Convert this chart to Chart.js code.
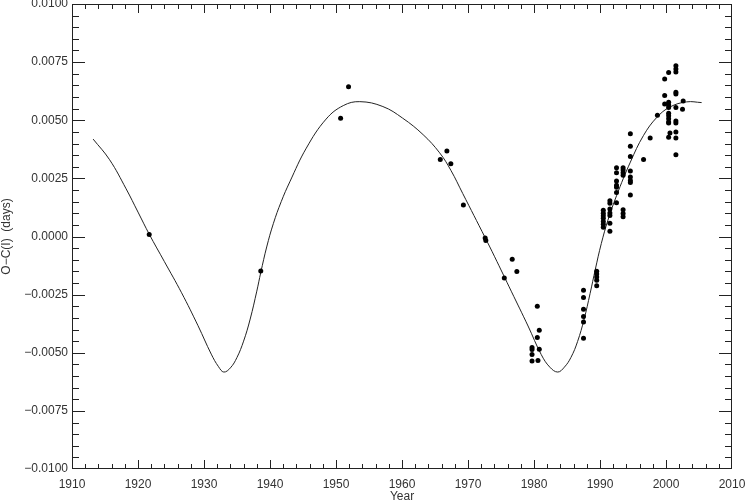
<!DOCTYPE html>
<html>
<head>
<meta charset="utf-8">
<title>O-C diagram</title>
<script src="https://cdn.jsdelivr.net/npm/chart.js@4/dist/chart.umd.min.js"></script>
<style>
  html, body { margin: 0; padding: 0; background: #fff; }
  canvas { display: block; }
</style>
</head>
<body>
<canvas id="oc-chart" width="746" height="501"></canvas>
<script>
// Timing observations (epoch in years, O-C in days), one line per season
const obsYear = [
    1921.7,
    1938.6,
    1950.7, 1951.9,
    1965.8, 1966.8, 1967.4, 1969.3,
    1972.6, 1972.7,
    1975.5, 1976.7, 1977.4,
    1979.7, 1979.7, 1979.7, 1979.7,
    1980.5, 1980.5, 1980.6, 1980.8, 1980.8,
    1987.5, 1987.5, 1987.5, 1987.5, 1987.5, 1987.5,
    1989.5, 1989.5, 1989.5, 1989.5, 1989.5,
    1990.5, 1990.5, 1990.5, 1990.5, 1990.5, 1990.5, 1990.5,
    1991.5, 1991.5, 1991.5, 1991.5, 1991.5, 1991.5, 1991.5,
    1992.5, 1992.5, 1992.5, 1992.5, 1992.5, 1992.5, 1992.5,
    1993.5, 1993.5, 1993.5, 1993.5, 1993.5, 1993.5, 1993.5,
    1994.6, 1994.6, 1994.6, 1994.6, 1994.6, 1994.6, 1994.6, 1994.6,
    1996.6, 1997.6, 1998.7,
    1999.8, 1999.8, 1999.8,
    2000.4, 2000.4, 2000.4, 2000.4, 2000.4, 2000.4, 2000.4, 2000.4, 2000.4, 2000.4, 2000.6,
    2001.5, 2001.5, 2001.5, 2001.5, 2001.5, 2001.5, 2001.5, 2001.5, 2001.5, 2001.5, 2001.5,
    2002.5, 2002.6
];
const obsOC = [
    0.00009,
    -0.00148,
    0.00509, 0.00644,
    0.00331, 0.00368, 0.00313, 0.00135,
    -0.00006, -0.00017,
    -0.00178, -0.00098, -0.00151,
    -0.00477, -0.00486, -0.00508, -0.00536,
    -0.00300, -0.00434, -0.00533, -0.00403, -0.00485,
    -0.00231, -0.00262, -0.00313, -0.00344, -0.00368, -0.00438,
    -0.00149, -0.00161, -0.00174, -0.00188, -0.00212,
    0.00113, 0.00100, 0.00089, 0.00078, 0.00065, 0.00053, 0.00040,
    0.00154, 0.00143, 0.00118, 0.00101, 0.00090, 0.00057, 0.00023,
    0.00296, 0.00274, 0.00239, 0.00220, 0.00212, 0.00189, 0.00145,
    0.00296, 0.00286, 0.00274, 0.00263, 0.00115, 0.00099, 0.00085,
    0.00442, 0.00388, 0.00344, 0.00282, 0.00256, 0.00241, 0.00232, 0.00178,
    0.00331, 0.00424, 0.00522,
    0.00677, 0.00606, 0.00570,
    0.00705, 0.00577, 0.00566, 0.00555, 0.00530, 0.00519, 0.00506, 0.00493, 0.00488, 0.00427, 0.00445,
    0.00734, 0.00720, 0.00708, 0.00620, 0.00613, 0.00555, 0.00497, 0.00488, 0.00449, 0.00424, 0.00352,
    0.00547, 0.00583
];

// Fitted curve
const fitYear = [1913.2, 1915.7, 1918.2, 1920.0, 1921.7, 1924.0, 1926.6, 1929.1, 1931.1, 1932.2,
                 1933.0, 1934.0, 1935.0, 1936.0, 1937.0, 1938.0, 1938.6, 1939.5, 1940.5, 1941.7,
                 1943.0, 1945.5, 1948.5, 1951.1, 1953.6, 1957.1, 1960.1, 1963.2, 1965.7, 1967.4,
                 1969.2, 1972.6, 1974.0, 1976.6, 1979.1, 1981.1, 1982.4, 1983.6, 1984.6, 1985.6,
                 1986.6, 1987.6, 1988.5, 1989.3, 1990.2, 1991.2, 1992.5, 1994.6, 1996.6, 1998.6,
                 2000.6, 2003.1, 2005.4];
const fitOC = [0.00419, 0.00330, 0.00205, 0.00105, 0.00010, -0.00108, -0.00242, -0.00384, -0.00506, -0.00560,
               -0.00583, -0.00565, -0.00520, -0.00450, -0.00355, -0.00235, -0.00155, -0.00045, 0.00055, 0.00150,
               0.00235, 0.00380, 0.00505, 0.00563, 0.00580, 0.00559, 0.00509, 0.00438, 0.00360, 0.00285,
               0.00185, -0.00005, -0.00085, -0.00238, -0.00385, -0.00508, -0.00562, -0.00583, -0.00562, -0.00520,
               -0.00452, -0.00355, -0.00245, -0.00140, -0.00030, 0.00070, 0.00175, 0.00320, 0.00435, 0.00512,
               0.00557, 0.00579, 0.00576];

const xTickValues = [1910, 1920, 1930, 1940, 1950, 1960, 1970, 1980, 1990, 2000, 2010];
const xTickLabels = ['1910', '1920', '1930', '1940', '1950', '1960', '1970', '1980', '1990', '2000', '2010'];
const yTickValues = [-0.01, -0.0075, -0.005, -0.0025, 0, 0.0025, 0.005, 0.0075, 0.01];
const yTickLabels = ['\u22120.0100', '\u22120.0075', '\u22120.0050', '\u22120.0025', '0.0000',
                     '0.0025', '0.0050', '0.0075', '0.0100'];

const AXIS_COLOR = '#222';
const TEXT_COLOR = '#333';
const FONT = { family: '"Liberation Sans", Arial, sans-serif', size: 12 };

// IDL-style box: inward ticks on all four sides, minor ticks between labels
const boxTicks = {
    id: 'boxTicks',
    afterDraw(chart) {
        const { ctx, chartArea: a } = chart;
        const xs = chart.scales.x, ys = chart.scales.y;
        ctx.save();
        ctx.strokeStyle = AXIS_COLOR;
        ctx.lineWidth = 1;
        ctx.strokeRect(a.left + 0.5, a.top + 0.5, a.right - a.left - 1, a.bottom - a.top - 1);
        ctx.beginPath();
        const xMinor = 5, yMinor = 5;
        for (let i = 0; i < xTickValues.length - 1; i++) {
            const step = (xTickValues[i + 1] - xTickValues[i]) / xMinor;
            for (let k = 0; k < xMinor; k++) {
                if (i === 0 && k === 0) continue;
                const px = Math.round(xs.getPixelForValue(xTickValues[i] + k * step)) + 0.5;
                const len = k === 0 ? 9 : 5;
                ctx.moveTo(px, a.bottom); ctx.lineTo(px, a.bottom - len);
                ctx.moveTo(px, a.top); ctx.lineTo(px, a.top + len);
            }
        }
        for (let i = 0; i < yTickValues.length - 1; i++) {
            const step = (yTickValues[i + 1] - yTickValues[i]) / yMinor;
            for (let k = 0; k < yMinor; k++) {
                if (i === 0 && k === 0) continue;
                const py = Math.round(ys.getPixelForValue(yTickValues[i] + k * step)) + 0.5;
                const len = k === 0 ? 13 : 7;
                ctx.moveTo(a.left, py); ctx.lineTo(a.left + len, py);
                ctx.moveTo(a.right, py); ctx.lineTo(a.right - len, py);
            }
        }
        ctx.stroke();
        ctx.restore();
    }
};

const ctx = document.getElementById('oc-chart').getContext('2d');
new Chart(ctx, {
    data: {
        datasets: [
            {
                type: 'scatter',
                label: 'Observed',
                data: obsYear.map((yr, i) => ({ x: yr, y: obsOC[i] })),
                pointRadius: 2.5,
                pointBackgroundColor: '#000',
                pointBorderWidth: 0,
                order: 1
            },
            {
                type: 'line',
                label: 'Fit',
                data: fitYear.map((yr, i) => ({ x: yr, y: fitOC[i] })),
                borderColor: '#222',
                borderWidth: 1,
                pointRadius: 0,
                fill: false,
                tension: 0.4,
                order: 2
            }
        ]
    },
    options: {
        responsive: false,
        animation: false,
        devicePixelRatio: 1,
        layout: { padding: { left: 0, right: 14, top: 1, bottom: 0 } },
        plugins: { legend: { display: false }, tooltip: { enabled: false } },
        scales: {
            x: {
                type: 'linear',
                min: 1910,
                max: 2010,
                afterBuildTicks: s => { s.ticks = xTickValues.map(v => ({ value: v })); },
                afterFit: s => { s.height = 32; s.paddingLeft = 0; s.paddingRight = 0; },
                grid: { display: false, drawTicks: false },
                border: { display: false },
                ticks: {
                    padding: 8,
                    color: TEXT_COLOR,
                    font: FONT,
                    maxRotation: 0,
                    callback: (v) => xTickLabels[xTickValues.indexOf(v)]
                },
                title: {
                    display: true,
                    text: 'Year',
                    color: TEXT_COLOR,
                    font: { ...FONT, lineHeight: 0.8 },
                    padding: 0
                }
            },
            y: {
                type: 'linear',
                min: -0.01,
                max: 0.01,
                afterBuildTicks: s => { s.ticks = yTickValues.map(v => ({ value: v })); },
                afterFit: s => { s.width = 72; s.paddingTop = 0; s.paddingBottom = 0; },
                grid: { display: false, drawTicks: false },
                border: { display: false },
                ticks: {
                    padding: 4,
                    color: TEXT_COLOR,
                    font: FONT,
                    callback: (v) => yTickLabels[yTickValues.findIndex(t => Math.abs(t - v) < 1e-9)]
                },
                title: {
                    display: true,
                    text: 'O\u2212C(I)  (days)',
                    color: TEXT_COLOR,
                    font: { ...FONT, lineHeight: 1.1 },
                    padding: 0
                }
            }
        }
    },
    plugins: [boxTicks]
});
</script>
</body>
</html>
